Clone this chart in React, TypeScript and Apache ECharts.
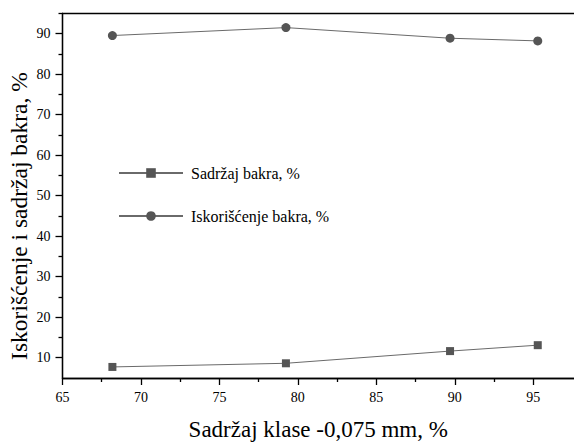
import React, { useEffect, useRef } from "react";
import * as echarts from "echarts";

const xValues = [68.18, 79.24, 89.7, 95.29];
const sadrzaj = [7.73, 8.63, 11.64, 13.1];
const iskoriscenje = [89.51, 91.47, 88.85, 88.19];
const xMajorTicks = [65, 70, 75, 80, 85, 90, 95];
const xMinorTicks = [67.5, 72.5, 77.5, 82.5, 87.5, 92.5];
const yMajorTicks = [10, 20, 30, 40, 50, 60, 70, 80, 90];
const yMinorTicks = [15, 25, 35, 45, 55, 65, 75, 85, 95];
const seriesNames = ["Sadržaj bakra, %", "Iskorišćenje bakra, %"];
const xTitle = "Sadržaj klase -0,075 mm, %";
const yTitle = "Iskorišćenje i sadržaj bakra, %";

const FONT = "Liberation Serif";

export default function App() {
  const ref = useRef<HTMLDivElement>(null);
  useEffect(() => {
    if (!ref.current) return;
    const chart = echarts.init(ref.current, null, { renderer: "svg" });
    const lineStyle = { color: "#000", width: 1.3 };
    const xCommon = { type: "value", min: 65, max: 97.6, gridIndex: 0 };
    const yCommon = { type: "value", min: 5, max: 95, gridIndex: 0 };
    chart.setOption({
      animation: false,
      backgroundColor: "#fff",
      textStyle: { fontFamily: FONT },
      grid: {
        left: 62.5,
        top: 13.3,
        right: -6,
        bottom: 65.3,
        show: false,
      },
      legend: {
        orient: "vertical",
        left: 118,
        top: 165,
        padding: 0,
        itemWidth: 64,
        itemHeight: 12,
        itemGap: 27,
        data: seriesNames,
        textStyle: { fontFamily: FONT, fontSize: 16, color: "#000", padding: [0, 0, 0, 3] },
      },
      xAxis: [
        {
          ...xCommon,
          position: "bottom",
          name: xTitle,
          nameLocation: "middle",
          nameGap: 40,
          nameTextStyle: { fontFamily: FONT, fontSize: 23, color: "#000" },
          axisLine: { show: true, onZero: false, lineStyle },
          axisTick: { show: true, length: 7, inside: false, customValues: xMajorTicks, lineStyle },
          axisLabel: { show: true, margin: 12, customValues: xMajorTicks, fontFamily: FONT, fontSize: 14, color: "#000" },
          splitLine: { show: false },
        },
        {
          ...xCommon,
          position: "bottom",
          axisLine: { show: true, onZero: false, lineStyle },
          axisTick: { show: true, length: 4, inside: false, customValues: xMinorTicks, lineStyle },
          axisLabel: { show: false },
          splitLine: { show: false },
        },
        {
          ...xCommon,
          position: "top",
          axisLine: { show: true, onZero: false, lineStyle },
          axisTick: { show: false },
          axisLabel: { show: false },
          splitLine: { show: false },
        },
      ],
      yAxis: [
        {
          ...yCommon,
          position: "left",
          axisLine: { show: true, onZero: false, lineStyle },
          axisTick: { show: true, length: 7, inside: false, customValues: yMajorTicks, lineStyle },
          axisLabel: { show: true, margin: 12, customValues: yMajorTicks, fontFamily: FONT, fontSize: 14, color: "#000" },
          splitLine: { show: false },
        },
        {
          ...yCommon,
          position: "left",
          axisLine: { show: true, onZero: false, lineStyle },
          axisTick: { show: true, length: 4, inside: false, customValues: yMinorTicks, lineStyle },
          axisLabel: { show: false },
          splitLine: { show: false },
        },
      ],
      graphic: [
        {
          type: "text",
          x: 19,
          y: 216,
          rotation: Math.PI / 2,
          style: {
            text: yTitle,
            fontFamily: FONT,
            fontSize: 23.5,
            fill: "#000",
            textAlign: "center",
            textVerticalAlign: "middle",
          },
        },
      ],
      series: [
        {
          name: seriesNames[0],
          type: "line",
          xAxisIndex: 0,
          yAxisIndex: 0,
          symbol: "rect",
          symbolSize: 8,
          data: xValues.map((x, i) => [x, sadrzaj[i]]),
          lineStyle: { color: "#6a6a6a", width: 1 },
          itemStyle: { color: "#555" },
        },
        {
          name: seriesNames[1],
          type: "line",
          xAxisIndex: 0,
          yAxisIndex: 0,
          symbol: "circle",
          symbolSize: 9,
          data: xValues.map((x, i) => [x, iskoriscenje[i]]),
          lineStyle: { color: "#6a6a6a", width: 1 },
          itemStyle: { color: "#555" },
        },
      ],
    });
    return () => chart.dispose();
  }, []);
  return (
    <div
      ref={ref}
      style={{ position: "absolute", left: 0, top: 0, width: 574, height: 446, background: "#fff" }}
    />
  );
}
